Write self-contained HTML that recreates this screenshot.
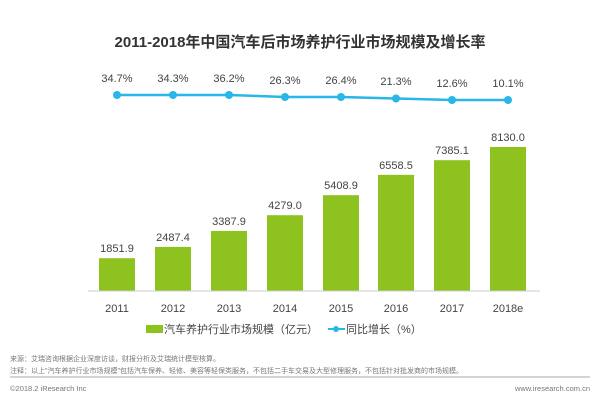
<!DOCTYPE html><html><head><meta charset="utf-8"><style>body{margin:0;background:#fff}svg text{font-family:"Liberation Sans","Noto Sans CJK SC",sans-serif}</style></head><body>
<svg width="600" height="400" xmlns="http://www.w3.org/2000/svg">
<text x="300" y="47" text-anchor="middle" font-size="15" font-weight="bold" fill="#333">2011-2018年中国汽车后市场养护行业市场规模及增长率</text>
<g id="bars" fill="#8dc21f"></g>
<line x1="88" y1="291" x2="540" y2="291" stroke="#ccc"/>
<polyline points="117,95 173,95 229,95 285,97 341,97 396,98.5 452,100 508,100" fill="none" stroke="#29b6e8" stroke-width="2.5"/>
<g fill="#29b6e8"><circle cx="117" cy="95" r="4"/><circle cx="173" cy="95" r="4"/><circle cx="229" cy="95" r="4"/><circle cx="285" cy="97" r="4"/><circle cx="341" cy="97" r="4"/><circle cx="396" cy="98.5" r="4"/><circle cx="452" cy="100" r="4"/><circle cx="508" cy="100" r="4"/></g>
<g font-size="11" fill="#444" text-anchor="middle">
<text x="117" y="82">34.7%</text><text x="173" y="82">34.3%</text><text x="229" y="82">36.2%</text><text x="285" y="84">26.3%</text><text x="341" y="84">26.4%</text><text x="396" y="85">21.3%</text><text x="452" y="87">12.6%</text><text x="508" y="87">10.1%</text>
</g>
<g font-size="11" fill="#444" text-anchor="middle" id="lbl"></g>
<g font-size="11" fill="#444" text-anchor="middle">
<text x="117" y="312">2011</text><text x="173" y="312">2012</text><text x="229" y="312">2013</text><text x="285" y="312">2014</text><text x="341" y="312">2015</text><text x="396" y="312">2016</text><text x="452" y="312">2017</text><text x="508" y="312">2018e</text>
</g>
<rect x="146" y="325" width="17" height="8" fill="#8dc21f"/>
<text x="164" y="333" font-size="11" fill="#444">汽车养护行业市场规模（亿元）</text>
<line x1="328" y1="329" x2="345" y2="329" stroke="#29b6e8" stroke-width="2"/><circle cx="336" cy="329" r="3" fill="#29b6e8"/>
<text x="346" y="333" font-size="11" fill="#444">同比增长（%）</text>
<text x="10" y="361" font-size="7" fill="#777">来源：艾瑞咨询根据企业深度访谈，财报分析及艾瑞统计模型核算。</text>
<text x="10" y="373" font-size="7" fill="#777">注释：以上"汽车养护行业市场规模"包括汽车保养、轻修、美容等轻保类服务，不包括二手车交易及大型修理服务，不包括针对批发商的市场规模。</text>
<line x1="10" y1="377" x2="590" y2="377" stroke="#aaa"/>
<text x="10" y="391" font-size="7.5" fill="#777">©2018.2 iResearch Inc</text>
<text x="590" y="391" font-size="7.5" fill="#777" text-anchor="end">www.iresearch.com.cn</text>
<script>
var v=[1851.9,2487.4,3387.9,4279.0,5408.9,6558.5,7385.1,8130.0],x=[117,173,229,285,341,396,452,508],b=document.getElementById('bars'),l=document.getElementById('lbl'),ns='http://www.w3.org/2000/svg';
v.forEach(function(d,i){var h=d*144/8130,r=document.createElementNS(ns,'rect');r.setAttribute('x',x[i]-18);r.setAttribute('y',291-h);r.setAttribute('width',36);r.setAttribute('height',h);b.appendChild(r);var t=document.createElementNS(ns,'text');t.setAttribute('x',x[i]);t.setAttribute('y',291-h-6);t.textContent=d.toFixed(1);l.appendChild(t);});
</script>
</svg></body></html>
